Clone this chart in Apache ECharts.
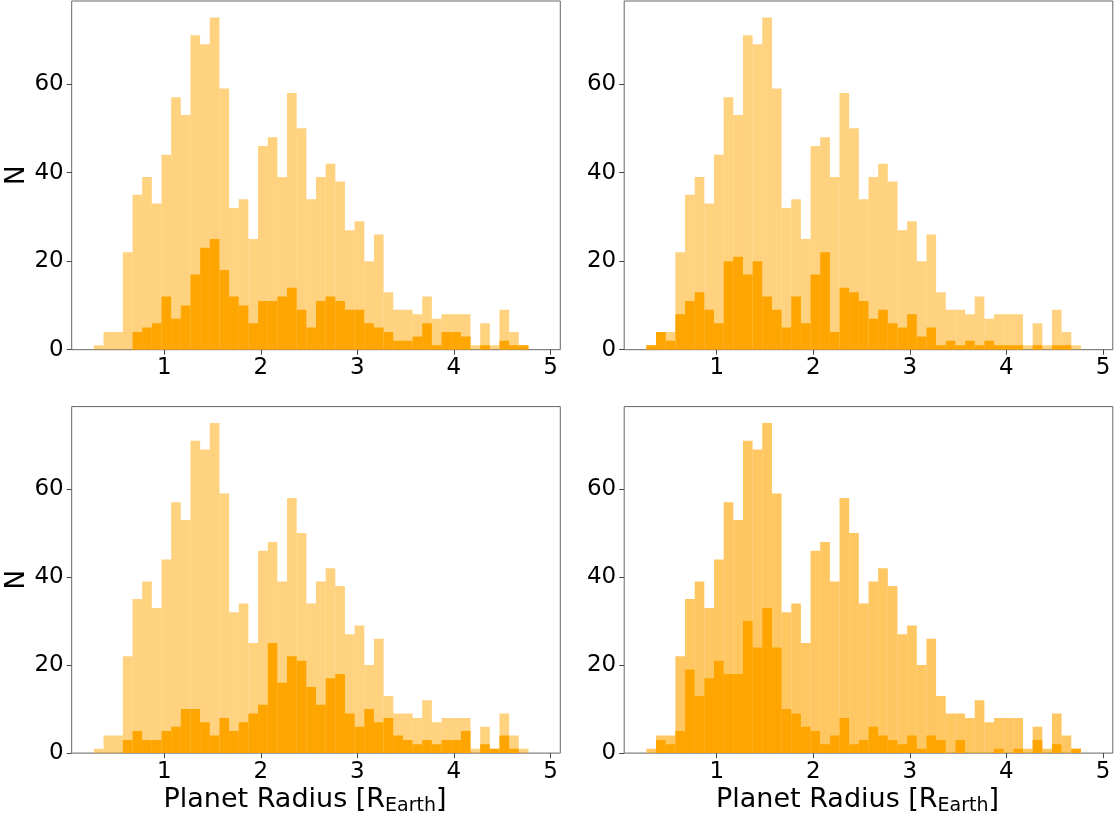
<!DOCTYPE html>
<html>
<head>
<meta charset="utf-8">
<script src="https://cdn.jsdelivr.net/npm/echarts@6/dist/echarts.min.js"></script>
<style>
html,body{margin:0;padding:0;background:#fff;}
#chart{width:1117px;height:817px;}
</style>
</head>
<body>
<div id="chart"></div>
<script>
// Histogram bin edges (planet radius, R_Earth)
var BIN_EDGES = [0.272,0.372,0.472,0.572,0.672,0.772,0.872,0.972,1.072,1.172,1.272,1.372,1.472,1.572,1.672,1.772,1.872,1.972,2.072,2.172,2.272,2.372,2.472,2.572,2.672,2.772,2.872,2.972,3.072,3.172,3.272,3.372,3.472,3.572,3.672,3.772,3.872,3.972,4.072,4.172,4.272,4.372,4.472,4.572,4.672,4.772,4.872];
// Full sample (light histogram, same in every panel)
var LIGHT_ALL = [1,4,4,22,35,39,33,44,57,53,71,69,75,59,32,34,25,46,48,39,58,50,34,39,42,38,27,29,20,26,13,9,9,8,12,7,8,8,8,1,6,1,9,4,1,0];
// Sub-samples (dark histograms)
var DARK_TL = [0,0,0,0,4,5,6,12,7,10,17,23,25,18,12,10,6,11,11,12,14,9,5,11,12,11,9,9,6,5,4,2,2,3,6,1,4,4,3,0,1,0,2,1,1,0];
var DARK_TR = [1,4,2,8,11,13,9,6,20,21,17,20,12,9,5,12,6,17,22,4,14,13,11,7,9,6,5,8,3,5,1,2,1,2,1,2,1,1,1,0,1,0,1,1,0,0];
var DARK_BL = [0,0,0,3,5,3,3,5,6,10,10,7,4,8,5,7,9,11,25,16,22,21,15,11,17,18,9,6,10,7,8,4,3,2,3,2,3,3,5,0,2,1,4,1,0,0];
var DARK_BR = [0,3,2,5,19,13,17,21,18,18,30,24,33,24,10,9,6,5,2,4,8,2,3,6,4,3,2,4,1,4,3,0,3,0,0,0,1,0,1,0,3,0,2,0,1,0];
var X_TICKS = [1,2,3,4,5];
var Y_TICKS = [0,20,40,60];
var X_LABEL = 'Planet Radius [R{sub|Earth}]';
var Y_LABEL = 'N';

var FONT = 'DejaVu Sans';
var ORANGE = '#ffa500';

function histData(counts){
  var out = [];
  for (var i = 0; i < counts.length; i++) out.push([BIN_EDGES[i], BIN_EDGES[i+1], counts[i]]);
  return out;
}
function histSeries(idx, counts, color){
  return {
    type:'custom', xAxisIndex:idx, yAxisIndex:idx, clip:true,
    encode:{x:[0,1], y:2},
    data:histData(counts),
    renderItem:function(params, api){
      var p0 = api.coord([api.value(0), api.value(2)]);
      var p1 = api.coord([api.value(1), 0]);
      return {type:'rect', shape:{x:p0[0], y:p0[1], width:p1[0]-p0[0], height:p1[1]-p0[1]}, style:{fill:color}};
    }
  };
}

var W = 488.6, H = 348.7;
var grids = [
  {left:71.7, top:1},
  {left:624.2, top:1},
  {left:71.7, top:406.6},
  {left:624.2, top:406.6}
];
var darks = [DARK_TL, DARK_TR, DARK_BL, DARK_BR];
var lightColors = ['rgba(255,165,0,0.5)','rgba(255,165,0,0.5)','rgba(255,165,0,0.5)','rgba(255,165,0,0.62)'];

var option = {
  backgroundColor:'#ffffff',
  animation:false,
  grid:[], xAxis:[], yAxis:[], series:[]
};
for (var k = 0; k < 4; k++){
  option.grid.push({left:grids[k].left, top:grids[k].top, width:W, height:H, show:true, borderColor:'#666', borderWidth:1, backgroundColor:'transparent', containLabel:false});
  option.xAxis.push({
    type:'value', gridIndex:k, min:0.042, max:5.102,
    axisLine:{show:false}, splitLine:{show:false},
    axisTick:{show:true, length:5, inside:false, customValues:X_TICKS, lineStyle:{color:'#444', width:1}},
    axisLabel:{show:true, customValues:X_TICKS, margin:7, fontFamily:FONT, fontSize:23, color:'#000'},
    name: k >= 2 ? X_LABEL : '', nameLocation:'middle', nameGap:29,
    nameTextStyle:{fontFamily:FONT, fontSize:27, color:'#000', lineHeight:32, padding:[0,22,0,0],
      rich:{sub:{fontFamily:FONT, fontSize:19, lineHeight:19, padding:[13,0,0,0], verticalAlign:'bottom', color:'#000'}}}
  });
  option.yAxis.push({
    type:'value', gridIndex:k, min:0, max:78.75,
    axisLine:{show:false}, splitLine:{show:false},
    axisTick:{show:true, length:5, inside:false, customValues:Y_TICKS, lineStyle:{color:'#444', width:1}},
    axisLabel:{show:true, customValues:Y_TICKS, margin:8, fontFamily:FONT, fontSize:23, color:'#000'},
    name: (k % 2 === 0) ? Y_LABEL : '', nameLocation:'middle', nameGap:38,
    nameTextStyle:{fontFamily:FONT, fontSize:26, color:'#000'}
  });
  option.series.push(histSeries(k, LIGHT_ALL, lightColors[k]));
  option.series.push(histSeries(k, darks[k], ORANGE));
}

var chart = echarts.init(document.getElementById('chart'), null, {renderer:'canvas'});
chart.setOption(option);
</script>
</body>
</html>
